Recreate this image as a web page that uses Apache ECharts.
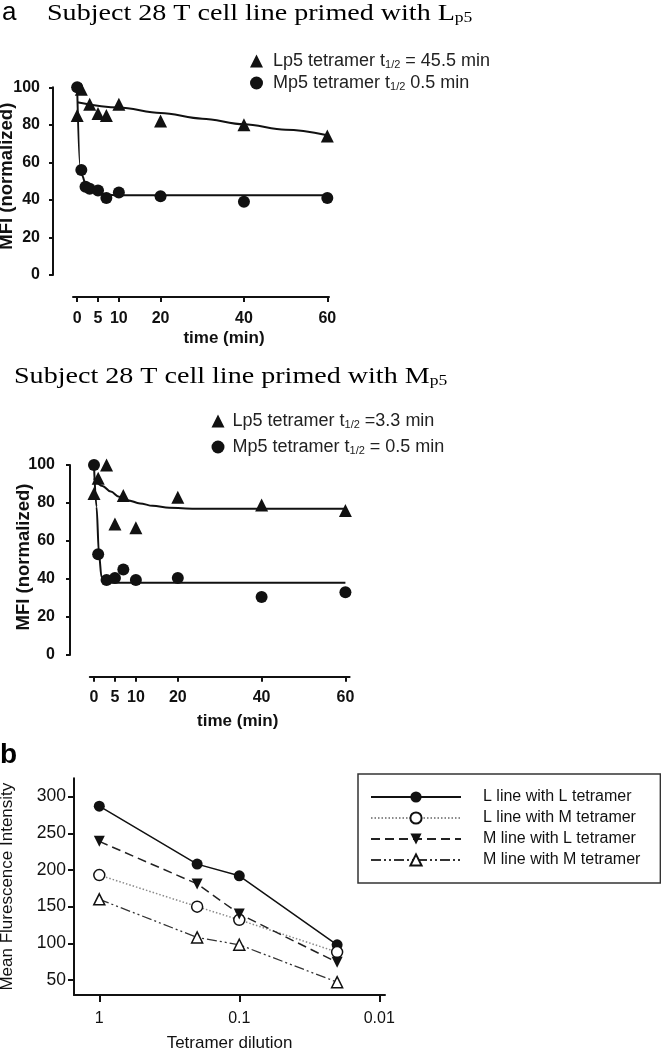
<!DOCTYPE html>
<html><head><meta charset="utf-8">
<script src="https://cdn.jsdelivr.net/npm/echarts@6/dist/echarts.min.js"></script>
<style>html,body{margin:0;padding:0;background:#fff}#c{width:661px;height:1050px}</style>
</head><body><div id="c"></div>
<script>
// ---------- Panel a (top): T cell line primed with Lp5 ----------
const aLpTime = [0, 1, 3, 5, 7, 10, 20, 40, 60];
const aLpMFI  = [85, 99, 91, 86, 85, 91, 82, 80, 74];
const aMpTime = [0, 1, 2, 3, 5, 7, 10, 20, 40, 60];
const aMpMFI  = [100, 56, 47, 46, 45, 41, 44, 42, 39, 41];
const aLpFitTime = [0, 10, 20, 30, 40, 50, 60];
const aLpFitMFI  = [92, 89.2, 86.3, 83.3, 80.3, 77.4, 74.5];
const aMpFitTime = [0, 0.7, 1.2, 2, 3, 4, 6, 9, 60];
const aMpFitMFI  = [100, 58, 53, 48.5, 45.5, 44.2, 43, 42.5, 42.5];

// ---------- Panel a (middle): T cell line primed with Mp5 ----------
const mLpTime = [0, 1, 3, 5, 7, 10, 20, 40, 60];
const mLpMFI  = [85, 93, 100, 69, 84, 67, 83, 79, 76];
const mMpTime = [0, 1, 3, 5, 7, 10, 20, 40, 60];
const mMpMFI  = [100, 53, 39.5, 40.5, 45, 39.5, 40.5, 30.5, 33];
const mLpFitTime = [0, 2, 4, 6, 8, 11, 14, 18, 24, 60];
const mLpFitMFI  = [93, 89, 86, 83.3, 81.5, 79.8, 78.5, 77.5, 77, 77];
const mMpFitTime = [0, 0.6, 1.2, 1.8, 2.5, 3.5, 60];
const mMpFitMFI  = [100, 78, 53, 41, 38.6, 38, 38];

const timeTicks = [0, 5, 10, 20, 40, 60];
const mfiTicks = [0, 20, 40, 60, 80, 100];

// ---------- Panel b ----------
const dilution = [1, 0.2, 0.1, 0.02];
const LlineLtet = [287, 208, 192, 98];
const LlineMtet = [193, 150, 132, 88];
const MlineLtet = [239, 181, 140, 74];
const MlineMtet = [160, 108, 98, 47];
const dilutionTicks = [1, 0.1, 0.01];
const intensityTicks = [50, 100, 150, 200, 250, 300];
const bSeriesNames = ['L line with L tetramer', 'L line with M tetramer', 'M line with L tetramer', 'M line with M tetramer'];

const legendLabels = {
  aL: '{g| }{n|Lp5 tetramer t}{s|1/2}{n| = 45.5 min}',
  aM: '{g| }{n|Mp5 tetramer t}{s|1/2}{n| 0.5 min}',
  mL: '{h| }{n|Lp5 tetramer t}{s|1/2}{n| =3.3 min}',
  mM: '{h| }{n|Mp5 tetramer t}{s|1/2}{n| = 0.5 min}'
};

const SANS = 'Liberation Sans, Arial, sans-serif';
const SERIF = 'Liberation Serif, Times New Roman, serif';
const INK = '#111';

const zip = (xs, ys) => xs.map((x, i) => [x, ys[i]]);

const boldTick = { fontFamily: SANS, fontWeight: 'bold', fontSize: 16, color: INK };
const boldName = { fontFamily: SANS, fontWeight: 'bold', fontSize: 17, color: INK };

function timeAxis(gridIndex, min, max, offset, margin, nameGap, padLeft) {
  return {
    gridIndex, type: 'value', min, max, offset,
    axisLine: { show: true, onZero: false, lineStyle: { color: INK, width: 2 } },
    axisTick: { show: true, length: 5, customValues: timeTicks, lineStyle: { color: INK, width: 2 } },
    axisLabel: Object.assign({ customValues: timeTicks, margin }, boldTick),
    splitLine: { show: false },
    name: 'time (min)', nameLocation: 'middle', nameGap, nameMoveOverlap: false,
    nameTextStyle: Object.assign({ padding: [0, 0, 0, padLeft] }, boldName)
  };
}
function mfiAxis(gridIndex, offset, margin, nameGap, padLeft) {
  return {
    gridIndex, type: 'value', min: 0, max: 100, interval: 20, offset,
    axisLine: { show: true, onZero: false, lineStyle: { color: INK, width: 2 } },
    axisTick: { show: true, length: 4, lineStyle: { color: INK, width: 2 } },
    axisLabel: Object.assign({ margin }, boldTick),
    splitLine: { show: false },
    name: 'MFI (normalized)', nameLocation: 'middle', nameGap, nameRotate: 90, nameMoveOverlap: false,
    nameTextStyle: Object.assign({}, boldName, { fontSize: 18.5, padding: [0, 0, 0, padLeft] })
  };
}
function scatter(name, axisIdx, xs, ys, symbol, size) {
  return { type: 'scatter', name, xAxisIndex: axisIdx, yAxisIndex: axisIdx, data: zip(xs, ys),
    symbol, symbolSize: size, itemStyle: { color: INK, opacity: 1 }, z: 3, silent: true };
}
function fit(axisIdx, xs, ys) {
  return { type: 'line', xAxisIndex: axisIdx, yAxisIndex: axisIdx, data: zip(xs, ys),
    symbol: 'none', showSymbol: false, smooth: 0.35, smoothMonotone: 'x',
    lineStyle: { color: INK, width: 2 }, z: 2, silent: true };
}
const legendRich = {
  g: { width: 5 },
  h: { width: 3 },
  n: { fontFamily: SANS, fontSize: 18, lineHeight: 18, color: '#222', verticalAlign: 'top' },
  s: { fontFamily: SANS, fontSize: 11, lineHeight: 11, color: '#222', padding: [10, 0, 0, 0], verticalAlign: 'bottom' }
};
const titleRich = {
  m: { fontFamily: SERIF, fontSize: 24, lineHeight: 24, color: '#1a1a1a', verticalAlign: 'top' },
  s: { fontFamily: SERIF, fontSize: 15, lineHeight: 15, color: '#1a1a1a', padding: [14, 0, 0, 0], verticalAlign: 'bottom' }
};

const bLine = (i, ys, lineColor, lineType, lineWidth, symbol, fill) => ({
  type: 'line', name: bSeriesNames[i], xAxisIndex: 2, yAxisIndex: 2, data: zip(dilution, ys),
  symbol, symbolSize: 11, showSymbol: true,
  lineStyle: { color: lineColor, type: lineType, width: lineWidth },
  itemStyle: { color: fill, borderColor: INK, borderWidth: fill === '#fff' ? 1.5 : 0, opacity: 1 },
  z: 3, silent: true
});

const option = {
  animation: false,
  backgroundColor: '#fff',
  graphic: [
    { type: 'text', x: 2, y: 0, style: { text: '{a|a}', rich: { a: { fontFamily: SANS, fontSize: 26, lineHeight: 26, color: '#1a1a1a' } } } },
    { type: 'text', x: 47, y: 2, scaleX: 1.17, style: { text: '{m|Subject 28 T cell line primed with L}{s|p5}', rich: titleRich } },
    { type: 'text', x: 14, y: 365, scaleX: 1.17, style: { text: '{m|Subject 28 T cell line primed with M}{s|p5}', rich: titleRich } },
    { type: 'text', x: 0, y: 741, style: { text: '{b|b}', rich: { b: { fontFamily: SANS, fontWeight: 'bold', fontSize: 28, lineHeight: 28, color: '#111' } } } }
  ],
  grid: [
    { left: 73, top: 87.3, width: 256, height: 187.7, containLabel: false, outerBoundsMode: 'none' },
    { left: 89.8, top: 465, width: 259.8, height: 190, containLabel: false, outerBoundsMode: 'none' },
    { left: 74, top: 778.3, width: 311, height: 216.7, containLabel: false, outerBoundsMode: 'none' }
  ],
  xAxis: [
    timeAxis(0, -1, 60.4, 22, 14, 33, 46),
    timeAxis(1, -1, 61, 21.7, 13, 36, 36),
    {
      gridIndex: 2, type: 'log', logBase: 10, inverse: true, min: 0.0091, max: 1.516,
      axisLine: { show: true, onZero: false, lineStyle: { color: INK, width: 2 } },
      axisTick: { show: true, length: 7, customValues: dilutionTicks, lineStyle: { color: INK, width: 2 } },
      axisLabel: { customValues: dilutionTicks, margin: 16, fontFamily: SANS, fontSize: 16, color: INK },
      splitLine: { show: false },
      name: 'Tetramer dilution', nameLocation: 'middle', nameGap: 40, nameMoveOverlap: false,
      nameTextStyle: { fontFamily: SANS, fontSize: 17, color: INK }
    }
  ],
  yAxis: [
    mfiAxis(0, 20, 13, 37, 10),
    mfiAxis(1, 19.8, 15, 37, 6),
    {
      gridIndex: 2, type: 'value', min: 29.5, max: 325,
      axisLine: { show: true, onZero: false, lineStyle: { color: INK, width: 2 } },
      axisTick: { show: true, length: 6, customValues: intensityTicks, lineStyle: { color: INK, width: 2 } },
      axisLabel: { customValues: intensityTicks, margin: 8, fontFamily: SANS, fontSize: 17.5, color: INK },
      splitLine: { show: false },
      name: 'Mean Flurescence Intensity', nameLocation: 'middle', nameGap: 58, nameRotate: 90, nameMoveOverlap: false,
      nameTextStyle: { fontFamily: SANS, fontSize: 17, color: INK }
    }
  ],
  legend: [
    { data: ['aL', 'aM'], left: 245, top: 44, orient: 'vertical', itemWidth: 13, itemHeight: 13, itemGap: 1,
      selectedMode: false, formatter: n => legendLabels[n], textStyle: { rich: legendRich },
      itemStyle: { opacity: 1 } },
    { data: ['mL', 'mM'], left: 206.5, top: 404, orient: 'vertical', itemWidth: 13, itemHeight: 13, itemGap: 5,
      selectedMode: false, formatter: n => legendLabels[n], textStyle: { rich: legendRich },
      itemStyle: { opacity: 1 } },
    { data: bSeriesNames, left: 358, top: 774, orient: 'vertical', itemWidth: 90, itemHeight: 14, itemGap: 5,
      padding: [15, 20, 15, 12], borderColor: '#333', borderWidth: 1.5, backgroundColor: '#fff',
      selectedMode: false, formatter: n => '{g| }' + n,
      textStyle: { fontFamily: SANS, fontSize: 16, lineHeight: 16, color: INK, rich: { g: { width: 17 } } } }
  ],
  series: [
    fit(0, aLpFitTime, aLpFitMFI),
    fit(0, aMpFitTime, aMpFitMFI),
    scatter('aL', 0, aLpTime, aLpMFI, 'triangle', 13),
    scatter('aM', 0, aMpTime, aMpMFI, 'circle', 12),
    fit(1, mLpFitTime, mLpFitMFI),
    fit(1, mMpFitTime, mMpFitMFI),
    scatter('mL', 1, mLpTime, mLpMFI, 'triangle', 13),
    scatter('mM', 1, mMpTime, mMpMFI, 'circle', 12),
    bLine(0, LlineLtet, '#111', 'solid', 1.5, 'circle', '#111'),
    bLine(1, LlineMtet, '#8a8a8a', [1.5, 2], 1.5, 'circle', '#fff'),
    bLine(2, MlineLtet, '#222', [9, 5], 1.5, 'path://M0,0L20,0L10,20Z', '#111'),
    bLine(3, MlineMtet, '#333', [10, 3, 2, 3, 2, 3], 1.3, 'triangle', '#fff')
  ]
};

const chart = echarts.init(document.getElementById('c'), null, { renderer: 'canvas' });
chart.setOption(option);
</script></body></html>
